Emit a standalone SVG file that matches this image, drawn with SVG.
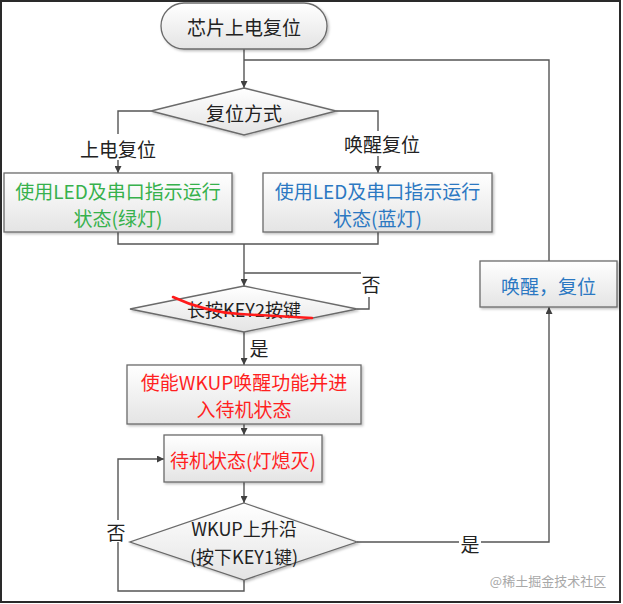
<svg xmlns="http://www.w3.org/2000/svg" width="623" height="604" viewBox="0 0 623 604">
<defs>
<linearGradient id="g" x1="0" y1="0" x2="0" y2="1">
<stop offset="0" stop-color="#ffffff"/>
<stop offset="1" stop-color="#e4e4e4"/>
</linearGradient>
<filter id="sh" x="-5%" y="-5%" width="115%" height="120%">
<feDropShadow dx="1.5" dy="1.5" stdDeviation="1" flood-color="#000" flood-opacity="0.25"/>
</filter>
<marker id="ar" viewBox="0 0 10 10" refX="10" refY="5" markerWidth="7" markerHeight="7" markerUnits="userSpaceOnUse" orient="auto">
<path d="M0,0 L10,5 L0,10 z" fill="#404040"/>
</marker>
<style>
.shape{fill:url(#g);stroke:#6a6a6a;stroke-width:1.3;filter:url(#sh)}
.ln{fill:none;stroke:#555;stroke-width:1.4}
text{font-family:"Noto Sans CJK SC","Liberation Sans",sans-serif;font-size:19px;text-anchor:middle;dominant-baseline:central;fill:#222}
.green{fill:#36b14c}
.blue{fill:#2b78c2}
.red{fill:#ff1f1f}
</style>
</defs>
<rect x="1" y="1" width="619" height="601" fill="#fff" stroke="#2a2a2a" stroke-width="2"/>

<g id="connectors">
<path class="ln" d="M244,49 V88" marker-end="url(#ar)"/>
<path class="ln" d="M549,261 V60 H244"/>
<path class="ln" d="M151,111 H118 V134"/>
<path class="ln" d="M118,160 V173" marker-end="url(#ar)"/>
<path class="ln" d="M336,111 H378 V131"/>
<path class="ln" d="M378,156 V173" marker-end="url(#ar)"/>
<path class="ln" d="M118,232 V244 H378 V232"/>
<path class="ln" d="M244,244 V286" marker-end="url(#ar)"/>
<path class="ln" d="M357,309 H369 V297"/>
<path class="ln" d="M361,273 H244"/>
<path class="ln" d="M244,332 V365" marker-end="url(#ar)"/>
<path class="ln" d="M244,424 V435" marker-end="url(#ar)"/>
<path class="ln" d="M244,482 V503" marker-end="url(#ar)"/>
<path class="ln" d="M244,580 V591 H118 V542"/>
<path class="ln" d="M118,520 V459 H164" marker-end="url(#ar)"/>
<path class="ln" d="M357,542 H459"/>
<path class="ln" d="M481,542 H549 V307" marker-end="url(#ar)"/>
<text x="118" y="148">上电复位</text>
<text x="382" y="143">唤醒复位</text>
<text x="371" y="283">否</text>
<text x="259" y="347">是</text>
<text x="116" y="531">否</text>
<text x="470" y="543">是</text>
</g>

<g id="start">
<rect class="shape" x="161" y="3" width="166" height="46" rx="23" ry="23"/>
<text x="244" y="26">芯片上电复位</text>
</g>

<g id="reset-mode">
<polygon class="shape" points="244,88 336,111 244,135 151,111"/>
<text x="244" y="112">复位方式</text>
</g>

<g id="green-box">
<rect class="shape" x="4" y="173" width="228" height="59"/>
<text class="green" x="118" y="190">使用LED及串口指示运行</text>
<text class="green" x="118" y="217">状态(绿灯)</text>
</g>

<g id="blue-box">
<rect class="shape" x="263" y="173" width="229" height="59"/>
<text class="blue" x="377.5" y="190">使用LED及串口指示运行</text>
<text class="blue" x="377.5" y="217">状态(蓝灯)</text>
</g>

<g id="key2">
<polygon class="shape" points="244,286 357,309 244,332 130,309"/>
<text x="244" y="309" style="font-size:18px">长按KEY2按键</text>
<path d="M173,297 Q205,312 240,314 T312,318" fill="none" stroke="#ff1a1a" stroke-width="2.5" stroke-linecap="round"/>
</g>

<g id="enable-wkup">
<rect class="shape" x="127" y="365" width="234" height="59"/>
<text class="red" x="244" y="381">使能WKUP唤醒功能并进</text>
<text class="red" x="244" y="408">入待机状态</text>
</g>

<g id="standby">
<rect class="shape" x="164" y="435" width="158" height="47"/>
<text class="red" x="243" y="459">待机状态(灯熄灭)</text>
</g>

<g id="wkup">
<polygon class="shape" points="244,503 357,542 244,580 130,542"/>
<text x="244" y="528" style="font-size:18px">WKUP上升沿</text>
<text x="244" y="556" style="font-size:18px">(按下KEY1键)</text>
</g>

<g id="wake-reset">
<rect class="shape" x="480" y="261" width="137" height="46"/>
<text class="blue" x="548.5" y="285">唤醒，复位</text>
</g>

<text x="548" y="580" style="font-size:13px;fill:#a8a8a8">@稀土掘金技术社区</text>
</svg>
